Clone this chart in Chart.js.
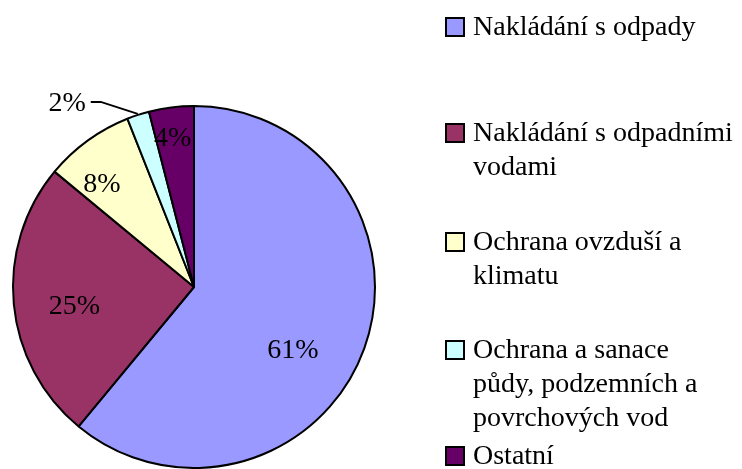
<!DOCTYPE html>
<html>
<head>
<meta charset="utf-8">
<script src="https://cdn.jsdelivr.net/npm/chart.js@4/dist/chart.umd.min.js"></script>
<style>
  html, body { margin: 0; padding: 0; background: #fff; }
  #wrap { width: 742px; height: 469px; position: relative; }
</style>
</head>
<body>
<div id="wrap"><canvas id="pieChart" width="742" height="469"></canvas></div>
<script>
// Categories (legend lines, wrapped like in the original)
const categories = [
  ['Nakládání s odpady'],
  ['Nakládání s odpadními', 'vodami'],
  ['Ochrana ovzduší a', 'klimatu'],
  ['Ochrana a sanace', 'půdy, podzemních a', 'povrchových vod'],
  ['Ostatní']
];
// Share of expenditure, in %
const shares = [61, 25, 8, 2, 4];
const sliceColors = ['#9999FF', '#993366', '#FFFFCC', '#CCFFFF', '#660066'];

const FONT = '28px "Liberation Serif", "Times New Roman", serif';

// where each % label sits: angle shift from slice middle (deg), radius fraction; null = outside w/ leader
const labelPlace = [
  { shift: 13, r: 0.65 },
  { shift: -4, r: 0.67 },
  { shift: -6, r: 0.76 },
  null,
  { shift: -1, r: 0.83 }
];
// legend: y of first line of each item
const legendY = [27, 133, 242, 350, 456];

const pieLabels = {
  id: 'pieLabels',
  afterDatasetsDraw(chart) {
    const ctx = chart.ctx;
    const arcs = chart.getDatasetMeta(0).data;
    ctx.save();
    ctx.font = FONT;
    ctx.fillStyle = '#000';
    ctx.textBaseline = 'middle';
    arcs.forEach(function(arc, i) {
      const p = arc.getProps(['x', 'y', 'startAngle', 'endAngle', 'outerRadius'], true);
      const mid = (p.startAngle + p.endAngle) / 2;
      const txt = shares[i] + '%';
      const place = labelPlace[i];
      if (place) {
        const a = mid + place.shift * Math.PI / 180;
        const r = p.outerRadius * place.r;
        ctx.textAlign = 'center';
        ctx.fillText(txt, p.x + Math.cos(a) * r, p.y + Math.sin(a) * r);
      } else {
        // small slice: label outside with a leader line
        const ex = p.x + Math.cos(mid) * (p.outerRadius + 1);
        const ey = p.y + Math.sin(mid) * (p.outerRadius + 1);
        const bx = ex - 37, by = ey - 12;
        ctx.strokeStyle = '#000';
        ctx.lineWidth = 2;
        ctx.beginPath();
        ctx.moveTo(ex, ey);
        ctx.lineTo(bx, by);
        ctx.lineTo(bx - 10, by);
        ctx.stroke();
        ctx.textAlign = 'right';
        ctx.fillText(txt, bx - 15, by + 2);
      }
    });
    ctx.restore();
  }
};

const sideLegend = {
  id: 'sideLegend',
  afterDraw(chart) {
    const ctx = chart.ctx;
    ctx.save();
    ctx.font = FONT;
    ctx.textAlign = 'left';
    ctx.textBaseline = 'middle';
    categories.forEach(function(lines, i) {
      const y0 = legendY[i];
      ctx.fillStyle = sliceColors[i];
      ctx.fillRect(446, y0 - 9, 18, 18);
      ctx.strokeStyle = '#000';
      ctx.lineWidth = 2;
      ctx.strokeRect(446, y0 - 9, 18, 18);
      ctx.fillStyle = '#000';
      lines.forEach(function(line, k) {
        ctx.fillText(line, 473, y0 + 1 + k * 34);
      });
    });
    ctx.restore();
  }
};

new Chart(document.getElementById('pieChart'), {
  type: 'pie',
  data: {
    labels: categories.map(function(l) { return l.join(' '); }),
    datasets: [{
      data: shares,
      backgroundColor: sliceColors,
      borderColor: '#000',
      borderWidth: 2
    }]
  },
  options: {
    responsive: false,
    animation: false,
    layout: { padding: { left: 12, top: 105, right: 366, bottom: 0 } },
    plugins: {
      legend: { display: false },
      tooltip: { enabled: false },
      title: { display: false }
    }
  },
  plugins: [pieLabels, sideLegend]
});
</script>
</body>
</html>
